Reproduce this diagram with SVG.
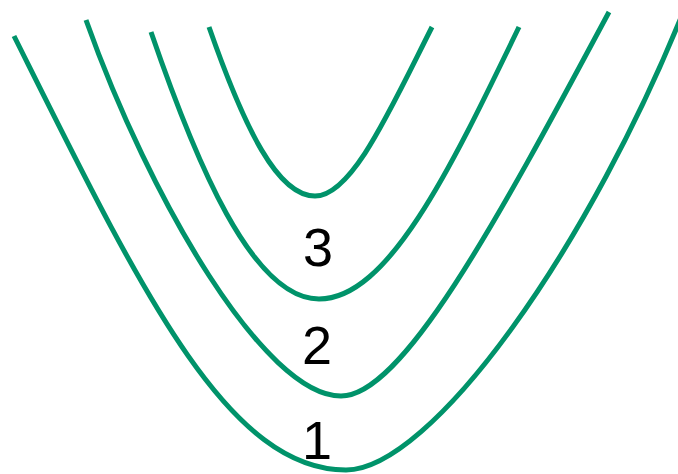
<svg xmlns="http://www.w3.org/2000/svg" width="678" height="474" viewBox="0 0 678 474">
<style>
.c{fill:none;stroke:#00936a;stroke-width:5}
.t{font-family:"Liberation Sans",Arial,sans-serif;font-size:54px;fill:#000;text-anchor:middle}
</style>
<rect width="678" height="474" fill="#fff"/>
<g id="connectors">
<path id="curve-inner" class="c" d="M209,27 C245,130 278,196 315,196 C352,196 390,110 432,27"/>
<path id="curve-3" class="c" d="M151,32 C195,160 252,299 319,299 C388,299 450,170 519,27"/>
<path id="curve-2" class="c" d="M86,20 C150,200 265,396 341,396 C402,396 495,225 609,12"/>
<path id="curve-1" class="c" d="M14,36 C139,286 226,470 346,470 C430,470 590,250 690,-5"/>
</g>
<g id="label-3"><text class="t" x="318" y="266">3</text></g>
<g id="label-2"><text class="t" x="317" y="364">2</text></g>
<g id="label-1"><text class="t" x="317" y="459">1</text></g>
</svg>
